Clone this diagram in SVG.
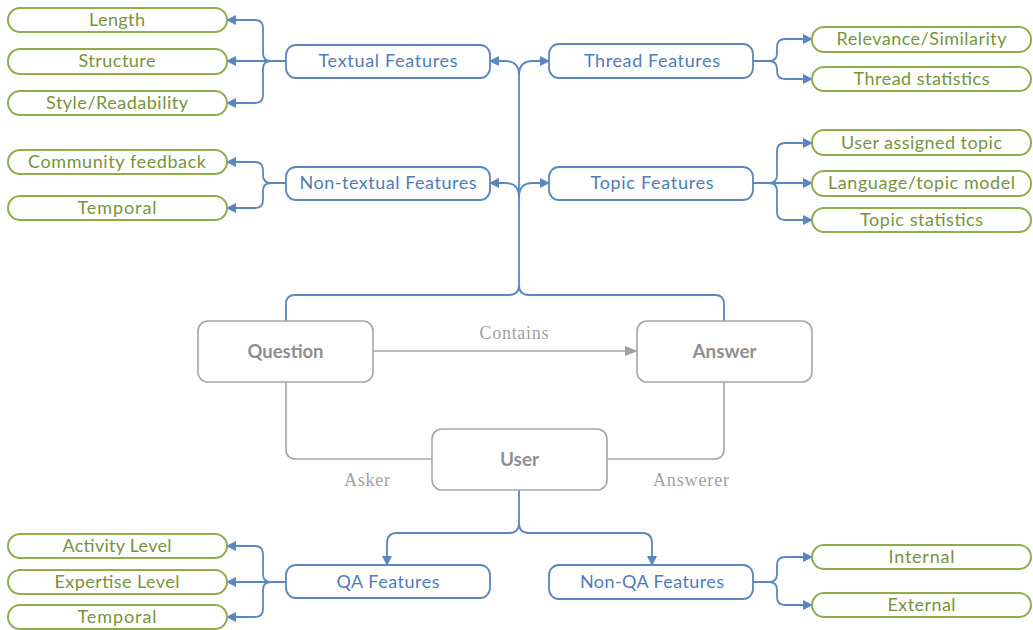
<svg xmlns="http://www.w3.org/2000/svg" width="1033" height="630" viewBox="0 0 1033 630">
<style>
.g rect{fill:#fff;stroke:#8fae4b;stroke-width:2}
.g text{fill:#77933c}
.b rect{fill:#fff;stroke:#5b86bf;stroke-width:1.8}
.b text{fill:#4f7cb9}
.k rect{fill:#fff;stroke:#a6a6a6;stroke-width:1.6}
.k text{fill:#8f8f8f;font-weight:bold}
text{font-family:Lato,"Open Sans",sans-serif;font-size:18px;text-anchor:middle}
.lbl{font-family:"Liberation Serif",serif;font-size:18px;fill:#a0a0a0;text-anchor:middle}
.cb{fill:none;stroke:#5b86bf;stroke-width:1.8}
.cg{fill:none;stroke:#a6a6a6;stroke-width:1.6}
</style>
<defs>
<marker id="ab" markerUnits="userSpaceOnUse" markerWidth="12" markerHeight="12" refX="9" refY="5" orient="auto"><path d="M0,0 L10,5 L0,10 Z" fill="#5b86bf"/></marker>
<marker id="ag" markerUnits="userSpaceOnUse" markerWidth="14" markerHeight="12" refX="12" refY="5" orient="auto"><path d="M0,0 L13,5 L0,10 Z" fill="#a0a0a0"/></marker>
</defs>
<g id="connectors">
<path class="cg" d="M373,351 H637" marker-end="url(#ag)"/>
<path class="cg" d="M286,382 V449 Q286,459 296,459 H432"/>
<path class="cg" d="M724,382 V449 Q724,459 714,459 H607"/>
<path class="cb" d="M286,321 V304 Q286,295 295,295 H509 Q519,295 519,285 V75"/>
<path class="cb" d="M724,321 V304 Q724,295 715,295 H529 Q519,295 519,285"/>
<path class="cb" d="M519,75 Q519,61 505,61 H490" marker-end="url(#ab)"/>
<path class="cb" d="M519,75 Q519,61 533,61 H549" marker-end="url(#ab)"/>
<path class="cb" d="M519,197 Q519,183 505,183 H490" marker-end="url(#ab)"/>
<path class="cb" d="M519,197 Q519,183 533,183 H549" marker-end="url(#ab)"/>
<path class="cb" d="M519,490 V523 Q519,533 509,533 H397 Q387,533 387,543 V565" marker-end="url(#ab)"/>
<path class="cb" d="M519,523 Q519,533 529,533 H642 Q652,533 652,543 V565" marker-end="url(#ab)"/>
<path class="cb" d="M286,61 H227" marker-end="url(#ab)"/>
<path class="cb" d="M286,61 H271 Q263,61 263,53 V28 Q263,20 255,20 H227" marker-end="url(#ab)"/>
<path class="cb" d="M286,61 H271 Q263,61 263,69 V95 Q263,103 255,103 H227" marker-end="url(#ab)"/>
<path class="cb" d="M286,183 H271 Q263,183 263,175 V170 Q263,162 255,162 H227" marker-end="url(#ab)"/>
<path class="cb" d="M286,183 H271 Q263,183 263,191 V200 Q263,208 255,208 H227" marker-end="url(#ab)"/>
<path class="cb" d="M286,582 H227" marker-end="url(#ab)"/>
<path class="cb" d="M286,582 H271 Q263,582 263,574 V554 Q263,546 255,546 H227" marker-end="url(#ab)"/>
<path class="cb" d="M286,582 H271 Q263,582 263,590 V609 Q263,617 255,617 H227" marker-end="url(#ab)"/>
<path class="cb" d="M753,61 H769 Q777,61 777,53 V47 Q777,39 785,39 H812" marker-end="url(#ab)"/>
<path class="cb" d="M753,61 H769 Q777,61 777,69 V71 Q777,79 785,79 H812" marker-end="url(#ab)"/>
<path class="cb" d="M753,183 H812" marker-end="url(#ab)"/>
<path class="cb" d="M753,183 H769 Q777,183 777,175 V151 Q777,143 785,143 H812" marker-end="url(#ab)"/>
<path class="cb" d="M753,183 H769 Q777,183 777,191 V212 Q777,220 785,220 H812" marker-end="url(#ab)"/>
<path class="cb" d="M753,582 H769 Q777,582 777,574 V565 Q777,557 785,557 H812" marker-end="url(#ab)"/>
<path class="cb" d="M753,582 H769 Q777,582 777,590 V597 Q777,605 785,605 H812" marker-end="url(#ab)"/>
<text class="lbl" x="514" y="339" textLength="69">Contains</text>
<text class="lbl" x="367" y="486" textLength="46">Asker</text>
<text class="lbl" x="691" y="486" textLength="76">Answerer</text>
</g>
<g id="question" class="k"><rect x="198" y="321" width="175" height="61" rx="10"/><text x="285.5" y="358" textLength="76" lengthAdjust="spacingAndGlyphs">Question</text></g>
<g id="answer" class="k"><rect x="637" y="321" width="175" height="61" rx="10"/><text x="724.5" y="358" textLength="64" lengthAdjust="spacingAndGlyphs">Answer</text></g>
<g id="user" class="k"><rect x="432" y="429" width="175" height="61" rx="10"/><text x="519.5" y="466" textLength="39" lengthAdjust="spacingAndGlyphs">User</text></g>
<g id="textual" class="b"><rect x="286" y="45" width="204" height="33" rx="10"/><text x="388" y="67" textLength="139">Textual Features</text></g>
<g id="nontextual" class="b"><rect x="286" y="167" width="204" height="33" rx="10"/><text x="388" y="189" textLength="177">Non-textual Features</text></g>
<g id="qa" class="b"><rect x="286" y="565" width="204" height="33" rx="10"/><text x="388" y="588" textLength="103">QA Features</text></g>
<g id="thread" class="b"><rect x="549" y="44" width="204" height="34" rx="10"/><text x="652" y="67" textLength="136">Thread Features</text></g>
<g id="topic" class="b"><rect x="549" y="167" width="204" height="33" rx="10"/><text x="652" y="189" textLength="123">Topic Features</text></g>
<g id="nonqa" class="b"><rect x="549" y="565" width="204" height="34" rx="10"/><text x="652" y="588" textLength="144">Non-QA Features</text></g>
<g id="length" class="g"><rect x="8" y="8" width="219" height="24" rx="12"/><text x="117" y="26" textLength="56">Length</text></g>
<g id="structure" class="g"><rect x="8" y="49" width="219" height="25" rx="12"/><text x="117" y="67" textLength="77">Structure</text></g>
<g id="style" class="g"><rect x="8" y="91" width="219" height="24" rx="12"/><text x="117" y="109" textLength="142">Style/Readability</text></g>
<g id="community" class="g"><rect x="8" y="150" width="219" height="24" rx="12"/><text x="117" y="168" textLength="178">Community feedback</text></g>
<g id="temporal1" class="g"><rect x="8" y="196" width="219" height="24" rx="12"/><text x="117" y="214" textLength="79">Temporal</text></g>
<g id="activity" class="g"><rect x="8" y="534" width="219" height="24" rx="12"/><text x="117" y="552" textLength="109">Activity Level</text></g>
<g id="expertise" class="g"><rect x="8" y="570" width="219" height="24" rx="12"/><text x="117" y="588" textLength="125">Expertise Level</text></g>
<g id="temporal2" class="g"><rect x="8" y="605" width="219" height="24" rx="12"/><text x="117" y="623" textLength="79">Temporal</text></g>
<g id="relevance" class="g"><rect x="812" y="27" width="219" height="25" rx="12"/><text x="921.5" y="45" textLength="170">Relevance/Similarity</text></g>
<g id="threadstats" class="g"><rect x="812" y="67" width="219" height="24" rx="12"/><text x="921.5" y="85" textLength="136">Thread statistics</text></g>
<g id="userassigned" class="g"><rect x="812" y="130" width="219" height="25" rx="12"/><text x="921.5" y="149" textLength="161">User assigned topic</text></g>
<g id="langmodel" class="g"><rect x="812" y="171" width="219" height="25" rx="12"/><text x="921.5" y="189" textLength="187">Language/topic model</text></g>
<g id="topicstats" class="g"><rect x="812" y="208" width="219" height="24" rx="12"/><text x="921.5" y="226" textLength="123">Topic statistics</text></g>
<g id="internal" class="g"><rect x="812" y="545" width="219" height="24" rx="12"/><text x="921.5" y="563" textLength="66">Internal</text></g>
<g id="external" class="g"><rect x="812" y="593" width="219" height="24" rx="12"/><text x="921.5" y="611" textLength="68">External</text></g>
</svg>
